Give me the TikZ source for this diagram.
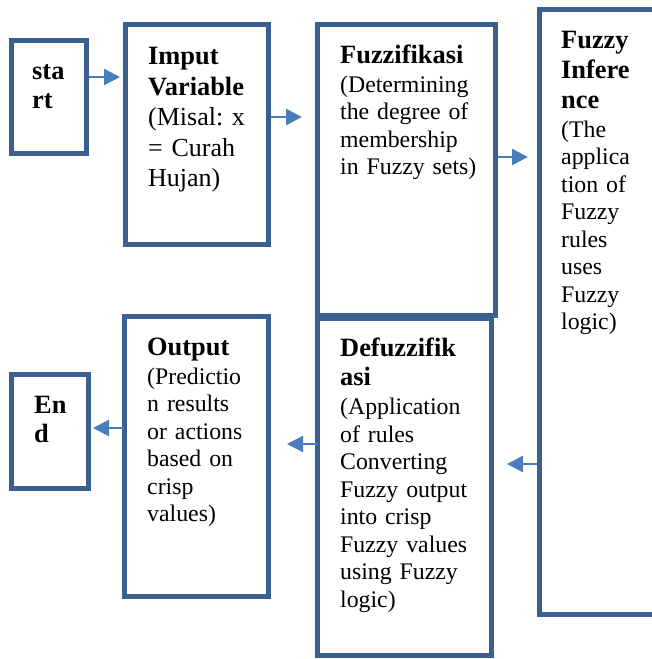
\documentclass[tikz,border=0pt]{standalone}
\usepackage{fontspec}
\setmainfont{Liberation Serif}
\usetikzlibrary{calc,arrows.meta}
\definecolor{boxblue}{HTML}{3A6090}
\definecolor{arrowblue}{HTML}{4A7EBB}
\newcommand{\boxhead}[1]{{\fontsize{26.4}{29}\selectfont\bfseries #1}}
\frenchspacing

\begin{document}
\begin{tikzpicture}[x=1pt,y=-1pt,
    stepbox/.style={draw=boxblue, line width=5pt, fill=white, anchor=north west, inner sep=0pt},
    boxtext/.style={anchor=north west, inner sep=0pt, align=left, text width=200pt,
      font=\fontsize{23.8}{27.5}\selectfont},
    flow/.style={draw=arrowblue, line width=2.5pt, -{Triangle[length=16pt,width=16pt]}}]
    \useasboundingbox (0,0) rectangle (651,659);

    \node [stepbox, minimum width=75pt, minimum height=113pt] (start) at (9,38) {};
    \node [stepbox, minimum width=143pt, minimum height=220pt] (imput) at (123,22) {};
    \node [stepbox, minimum width=178pt, minimum height=291pt] (fuzz) at (315,22) {};
    \node [stepbox, minimum width=117pt, minimum height=605pt] (infer) at (537,7) {};
    \node [stepbox, minimum width=174pt, minimum height=337pt] (defuzz) at (315,316) {};
    \node [stepbox, minimum width=144pt, minimum height=280pt] (output) at (122,314) {};
    \node [stepbox, minimum width=77pt, minimum height=114pt] (end) at (9,372) {};

    \node [boxtext] (starttext) at (32,60) {\strut\boxhead{sta}\\[1.5pt]\boxhead{rt}};
    \node [boxtext, font=\fontsize{26}{30.5}\selectfont] (imputtext) at (148,43) {\strut\boxhead{Imput}\\\boxhead{Variable}\\(Misal: x\\= Curah\\Hujan)};
    \node [boxtext] (fuzztext) at (340,44) {\strut\boxhead{Fuzzifikasi}\\[1.5pt](Determining\\the degree of\\membership\\in Fuzzy sets)};
    \node [boxtext] (infertext) at (561,29) {\strut\boxhead{Fuzzy}\\[2.5pt]\boxhead{Infere}\\[2.5pt]\boxhead{nce}\\[1.5pt](The\\applica\\tion of\\Fuzzy\\rules\\uses\\Fuzzy\\logic)};
    \node [boxtext] (defuzztext) at (340,337) {\strut\boxhead{Defuzzifik}\\[2pt]\boxhead{asi}\\[1.5pt](Application\\of rules\\Converting\\Fuzzy output\\into crisp\\Fuzzy values\\using Fuzzy\\logic)};
    \node [boxtext] (outputtext) at (147,336) {\strut\boxhead{Output}\\[1.5pt](Predictio\\n results\\or actions\\based on\\crisp\\values)};
    \node [boxtext] (endtext) at (34,394) {\strut\boxhead{En}\\[1.5pt]\boxhead{d}};

    \draw [flow, shorten >=3pt] (start.east |- 0,77) -- (imput.west |- 0,77);
    \draw [flow, shorten >=13pt] (imput.east |- 0,117) -- (fuzz.west |- 0,117);
    \draw [flow, shorten >=9pt] (fuzz.east |- 0,157) -- (infer.west |- 0,157);
    \draw [flow, shorten >=13pt] (infer.west |- 0,464) -- (defuzz.east |- 0,464);
    \draw [flow, shorten >=16pt, shorten <=-3pt] (defuzz.west |- 0,444) -- (output.east |- 0,444);
    \draw [flow, shorten >=2pt, shorten <=-2pt] (output.west |- 0,428) -- (end.east |- 0,428);
  \end{tikzpicture}
\end{document}
